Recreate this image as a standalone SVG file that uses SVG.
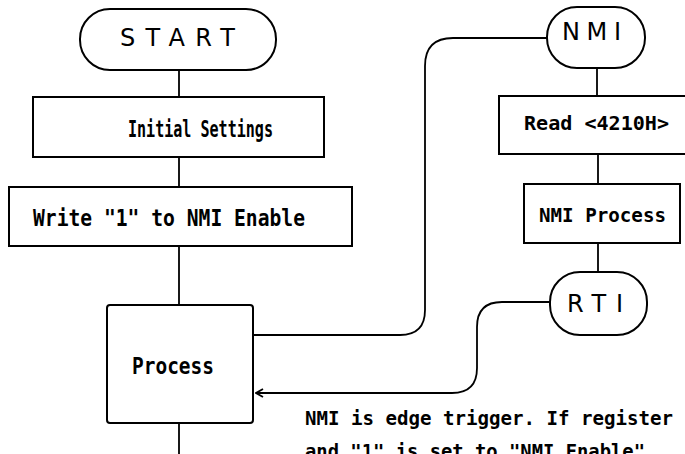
<svg xmlns="http://www.w3.org/2000/svg" width="685" height="454" viewBox="0 0 685 454">
<style>
.box{fill:#fff;stroke:#000;stroke-width:2}
.ln{fill:none;stroke:#000;stroke-width:1.8}
.t{font-family:"DejaVu Sans Mono","Liberation Mono",monospace;font-size:23px;font-weight:bold;fill:#000}
.tt{font-family:"DejaVu Sans","Liberation Sans",sans-serif;font-size:24px;fill:#000}
.note{font-family:"DejaVu Sans Mono","Liberation Mono",monospace;font-size:19px;font-weight:bold;fill:#000}
</style>
<defs>
<marker id="arr" viewBox="-9 -6 10 12" markerWidth="10" markerHeight="12" refX="0" refY="0" orient="auto" markerUnits="userSpaceOnUse">
<path d="M-7,-4 L0,0 L-7,4" fill="none" stroke="#000" stroke-width="1.8"/>
</marker>
</defs>
<g id="connectors">
<path class="ln" d="M179,70 V97"/>
<path class="ln" d="M179,157 V187"/>
<path class="ln" d="M179,246 V305"/>
<path class="ln" d="M179,423 V454"/>
<path class="ln" d="M597,68 V96"/>
<path class="ln" d="M598,154 V184"/>
<path class="ln" d="M598,243 V272"/>
<path class="ln" d="M253,335 H400 Q425,335 425,310 V66 Q425,38 453,38 H547"/>
<path class="ln" d="M550,302 H502 Q477,302 477,327 V368 Q477,393 452,393 H256" marker-end="url(#arr)"/>
</g>
<g id="start">
<rect class="box" x="80" y="9" width="196" height="61" rx="30"/>
<text class="tt" x="120" y="46" textLength="115" lengthAdjust="spacing">START</text>
</g>
<g id="initial">
<rect class="box" x="33" y="97" width="291" height="60"/>
<text class="t" x="128" y="137" textLength="145" lengthAdjust="spacingAndGlyphs">Initial Settings</text>
</g>
<g id="write">
<rect class="box" x="9" y="187" width="343" height="59"/>
<text class="t" x="33" y="226" textLength="272" lengthAdjust="spacingAndGlyphs">Write "1" to NMI Enable</text>
</g>
<g id="process">
<rect class="box" x="107" y="305" width="146" height="118" rx="3"/>
<text class="t" x="132" y="374" textLength="82" lengthAdjust="spacingAndGlyphs">Process</text>
</g>
<g id="nmi">
<rect class="box" x="547" y="7" width="98" height="61" rx="30"/>
<text class="tt" x="562" y="40" textLength="59" lengthAdjust="spacing">NMI</text>
</g>
<g id="read">
<rect class="box" x="499" y="96" width="200" height="58"/>
<text class="t" x="524" y="130" style="font-size:20px" textLength="145" lengthAdjust="spacingAndGlyphs">Read &lt;4210H&gt;</text>
</g>
<g id="nmiprocess">
<rect class="box" x="524" y="184" width="156" height="59"/>
<text class="t" x="539" y="222" style="font-size:19px" textLength="127" lengthAdjust="spacingAndGlyphs">NMI Process</text>
</g>
<g id="rti">
<rect class="box" x="550" y="272" width="97" height="63" rx="30"/>
<text class="tt" x="567" y="312" textLength="56" lengthAdjust="spacing">RTI</text>
</g>
<g id="note">
<text class="note" x="305" y="425" textLength="368" lengthAdjust="spacingAndGlyphs">NMI is edge trigger. If register</text>
<text class="note" x="305" y="458" textLength="340" lengthAdjust="spacingAndGlyphs">and "1" is set to "NMI Enable"</text>
</g>
</svg>
